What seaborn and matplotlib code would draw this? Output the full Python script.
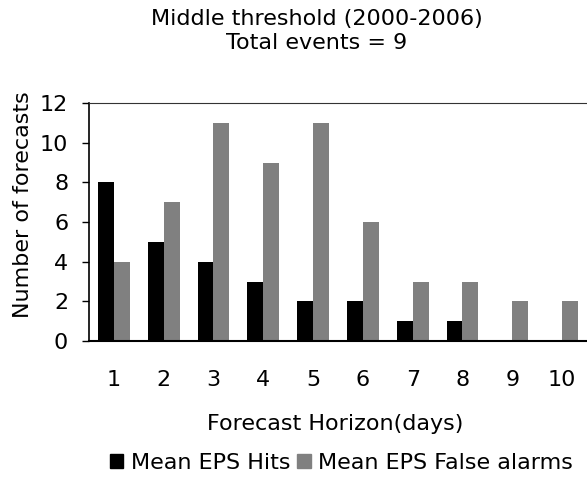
import matplotlib
matplotlib.use("Agg")
import matplotlib.pyplot as plt
import seaborn as sns
import pandas as pd
import numpy as np
from matplotlib.patches import Patch

days = [1, 2, 3, 4, 5, 6, 7, 8, 9, 10]
hits = [8, 5, 4, 3, 2, 2, 1, 1, 0, 0]
false_alarms = [4, 7, 11, 9, 11, 6, 3, 3, 2, 2]
series_names = ["Mean EPS Hits", "Mean EPS False alarms"]
colors = ["#000000", "#808080"]

df = pd.DataFrame({
    "day": [str(d) for d in days] * 2,
    "value": hits + false_alarms,
    "series": [series_names[0]] * len(days) + [series_names[1]] * len(days),
})

sns.set_style("white")
plt.rcParams["font.family"] = ["DejaVu Sans"]
plt.rcParams["text.color"] = "black"
plt.rcParams["axes.labelcolor"] = "black"
plt.rcParams["xtick.color"] = "black"
plt.rcParams["ytick.color"] = "black"

FS = 16

fig = plt.figure(figsize=(5.87, 4.78), dpi=100)
ax = fig.add_axes([0.1516, 0.2866, 0.8484, 0.4979])

sns.barplot(data=df, x="day", y="value", hue="series", palette=colors,
            width=0.64, ax=ax, legend=False, saturation=1, linewidth=0)

ax.set_xlim(-0.5, len(days) - 0.5)
ax.set_ylim(0, 12)
ax.set_yticks([0, 2, 4, 6, 8, 10, 12])
ax.set_xticks(range(len(days)))
ax.set_xticklabels([str(d) for d in days])
ax.set_xticks(np.arange(-0.5, len(days), 1.0), minor=True)
ax.tick_params(axis="x", which="major", length=0, pad=21, labelsize=FS)
ax.tick_params(axis="x", which="minor", length=4.5, width=1, direction="out", color="black")
ax.tick_params(axis="y", which="major", length=5, width=1, direction="out", color="black",
               labelsize=FS, pad=10, left=True)

for s in ["left", "bottom", "top"]:
    ax.spines[s].set_visible(True)
    ax.spines[s].set_color("black")
ax.spines["top"].set_color("#333333")
ax.spines["left"].set_linewidth(1.2)
ax.spines["bottom"].set_linewidth(1.5)
ax.spines["right"].set_visible(False)

ax.set_xlabel("Forecast Horizon(days)", fontsize=FS, labelpad=20)
ax.xaxis.set_label_coords(0.495, -0.305)
ax.set_ylabel("Number of forecasts", fontsize=FS)
ax.yaxis.set_label_coords(-0.112, 0.571)
ax.set_title("Middle threshold (2000-2006)\nTotal events = 9", fontsize=FS, pad=39,
             linespacing=1.25, x=0.458)

handles = [Patch(facecolor=c, edgecolor=c) for c in colors]
fig.legend(handles, series_names, loc="center", bbox_to_anchor=(0.582, 0.031),
           ncol=2, frameon=False, fontsize=FS, handlelength=0.6, handleheight=0.6,
           handletextpad=0.35, columnspacing=0.3, borderaxespad=0)

fig.savefig("out.png", dpi=100)
